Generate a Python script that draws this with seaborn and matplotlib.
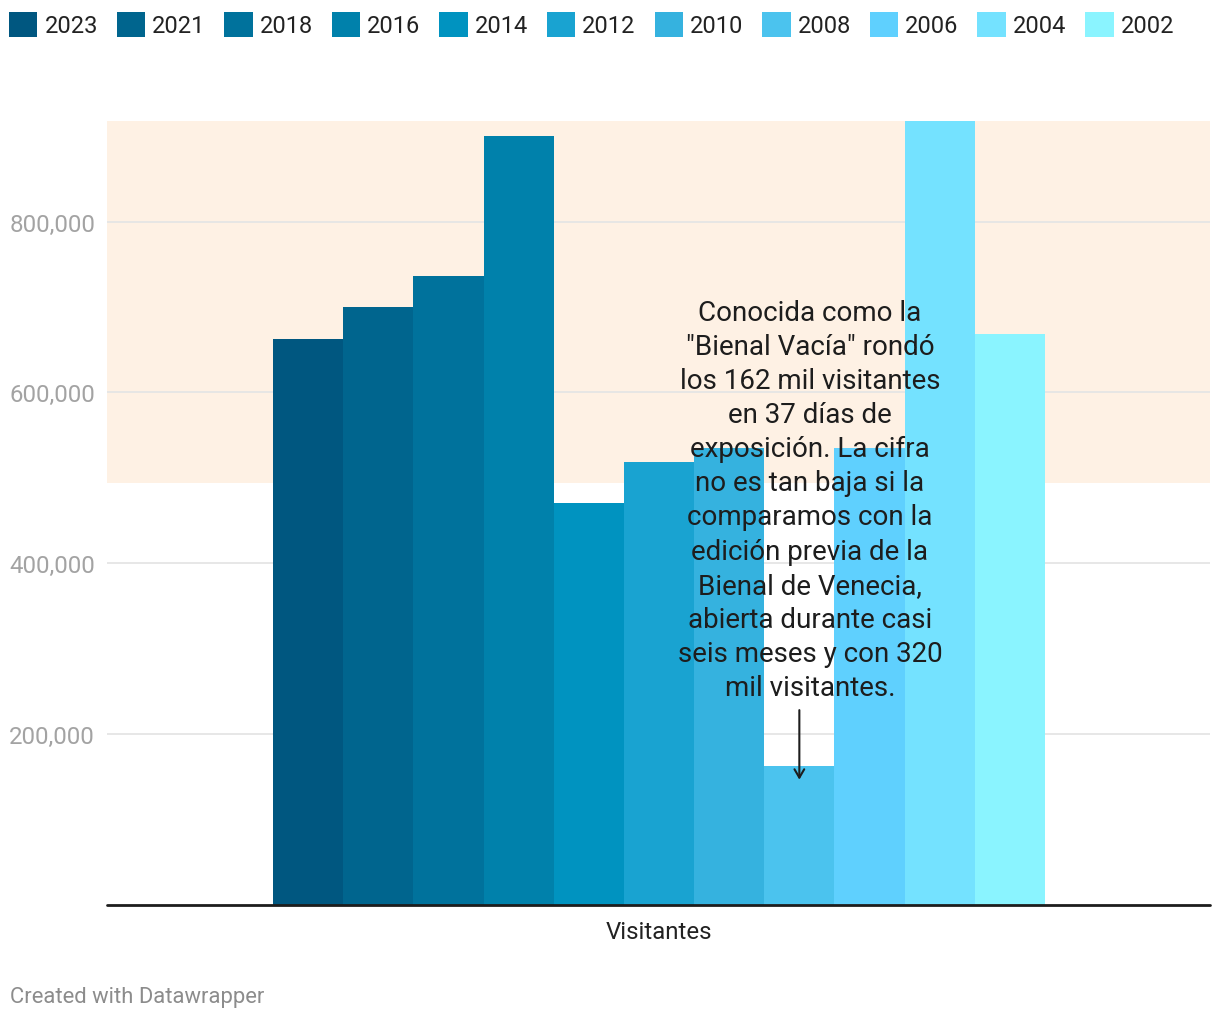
import numpy as np
import pandas as pd
import seaborn as sns
import matplotlib.pyplot as plt
from matplotlib.ticker import FuncFormatter


anios = ["2023", "2021", "2018", "2016", "2014", "2012", "2010", "2008", "2006", "2004", "2002"]
visitantes = [662000, 700000, 736000, 900000, 471000, 519000, 535000, 162000, 535000, 918000, 669000]
colores = ["#005780", "#00658e", "#00729c", "#0081ab", "#0093c0", "#19a3d1",
           "#35b2df", "#4bc3ee", "#5fd0fe", "#74e2ff", "#8af4ff"]
y_ticks = [200000, 400000, 600000, 800000]
serie = "Visitantes"
nota = ("Conocida como la\n\"Bienal Vacía\" rondó\nlos 162 mil visitantes\nen 37 días de\n"
        "exposición. La cifra\nno es tan baja si la\ncomparamos con la\nedición previa de la\n"
        "Bienal de Venecia,\nabierta durante casi\nseis meses y con 320\nmil visitantes.")
franja = (494000, 918000)

df = pd.DataFrame({"serie": serie, "anio": anios, "valor": visitantes})

sns.set_style("white")
plt.rcParams["font.family"] = ["Roboto", "DejaVu Sans"]

fig = plt.figure(figsize=(12.2, 10.2), dpi=100)
ax = fig.add_axes([107 / 1220, (1020 - 905.5) / 1020, 1103 / 1220, (905.5 - 122) / 1020])

# franja de fondo
ax.axhspan(franja[0], franja[1], color="#fef1e4", zorder=0, lw=0)

sns.barplot(data=df, x="serie", y="valor", hue="anio", hue_order=anios,
            palette=colores, saturation=1, width=0.8, ax=ax, zorder=2,
            linewidth=0, edgecolor="none")

ax.set_ylim(0, max(visitantes))
ax.set_xlim(-0.572, 0.571)
ax.set_yticks(y_ticks)
ax.yaxis.set_major_formatter(FuncFormatter(lambda v, p: f"{int(v):,}"))
ax.yaxis.grid(True, color="#e5e5e5", lw=1.3)
ax.set_axisbelow(True)
for s in ax.spines.values():
    s.set_visible(False)
ax.axhline(0, color="#1d1d1d", lw=2, zorder=4, clip_on=False)
ax.set_xlabel("")
ax.set_ylabel("")
ax.tick_params(axis="y", length=0, pad=8.6, labelsize=17.3, labelcolor="#a3a3a3")
ax.tick_params(axis="x", length=0, pad=11.5, labelsize=17.3, labelcolor="#222222")

# leyenda arriba
handles, labels = ax.get_legend_handles_labels()
ax.get_legend().remove()
fig.legend(handles, labels, loc="upper left", bbox_to_anchor=(9 / 1220, 1 - 13 / 1020),
           ncol=11, frameon=False, fontsize=17, handlelength=1.2, handleheight=1.25,
           handletextpad=0.3, columnspacing=0.8, borderpad=0, borderaxespad=0,
           labelcolor="#222222")

# nota con flecha sobre 2008
b = ax.containers[anios.index("2008")][0]
xc = b.get_x() + b.get_width() / 2
ax.annotate("", xy=(xc, 143000), xytext=(xc, 231000),
            arrowprops=dict(arrowstyle="->,head_length=0.6,head_width=0.35",
                            color="#1d1d1d", lw=1.5), zorder=6)
ax.text((810 - 107) / 1103, 710000, nota, transform=ax.get_yaxis_transform(),
        ha="center", va="top", multialignment="center", fontsize=20,
        linespacing=1.34, color="#1d1d1d", zorder=6)

fig.text(10 / 1220, 1 - 998 / 1020, "Created with Datawrapper", fontsize=15.8,
         color="#8c8c8c", va="center", ha="left")

fig.savefig("out.png", dpi=100)
